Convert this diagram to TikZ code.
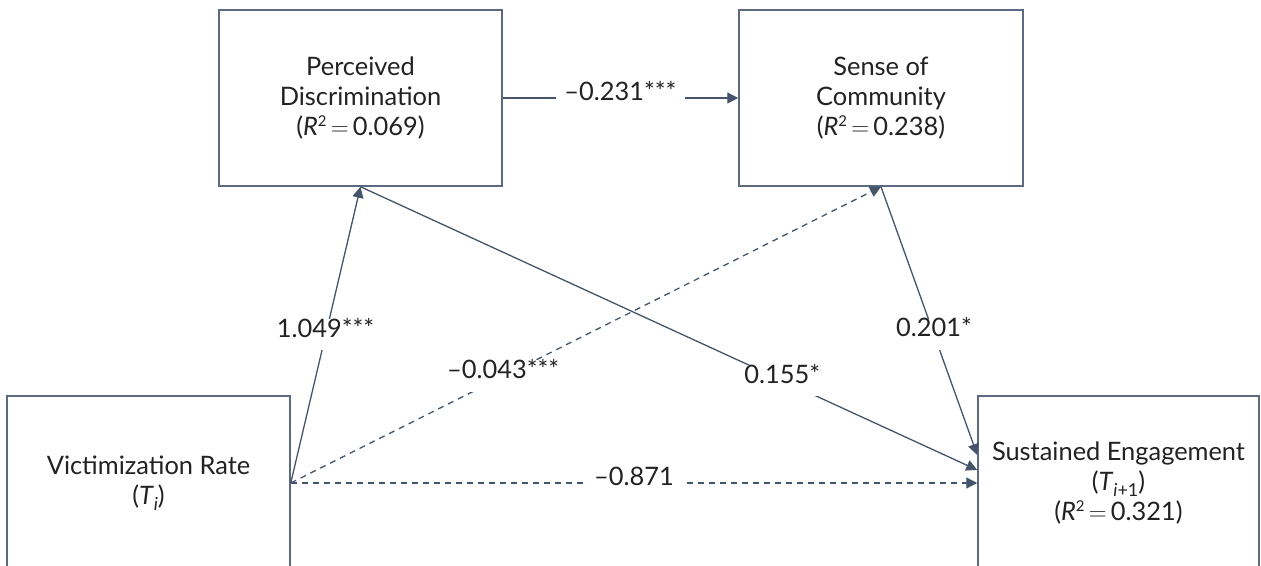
\documentclass[tikz,border=0pt]{standalone}
\usepackage{fontspec}
\setmainfont{Lato}
\usetikzlibrary{arrows.meta}
\definecolor{linec}{HTML}{44546A}
\definecolor{boxc}{HTML}{5B6A7E}
\definecolor{txtc}{HTML}{222222}
\newcommand{\supsq}{\raisebox{0.36em}{\fontsize{15}{15}\selectfont 2}}
\newcommand{\subsc}[1]{\raisebox{-0.22em}{\fontsize{18}{18}\selectfont #1}}
\newcommand{\eqs}{\,$=$\,}
\tikzset{
  box/.style={draw=boxc, line width=1.5bp, fill=white, align=center, text=txtc,
    font=\fontsize{25.5}{30}\selectfont, inner sep=0pt},
  path/.style={draw=linec, line width=1.3bp, -{Triangle[length=11bp,width=11bp]}},
  dpath/.style={path, dash pattern=on 6bp off 5bp},
  lab/.style={fill=white, text=txtc, font=\fontsize{25.5}{30}\selectfont,
    inner xsep=8bp, inner ysep=11bp, text height=0.72em, text depth=0.2em},
}
\begin{document}
\begin{tikzpicture}[x=1bp, y=-1bp]
\useasboundingbox (0,0) rectangle (1261,566);
\node[box, minimum width=283bp, minimum height=176bp] (pd) at (360.5,98)
  {Perceived\\Discrimination\\(\textit{R}\supsq\eqs0.069)};
\node[box, minimum width=284bp, minimum height=176bp] (soc) at (881,98)
  {Sense of\\Community\\(\textit{R}\supsq\eqs0.238)};
\node[box, minimum width=283bp, minimum height=174bp] (vr) at (148.5,483)
  {Victimization Rate\\(\textit{T}\subsc{\textit{i}})};
\node[box, minimum width=281bp, minimum height=174bp] (se) at (1118.5,483)
  {Sustained Engagement\\(\textit{T}\subsc{\textit{i}+1})\\(\textit{R}\supsq\eqs0.321)};

\draw[path] (pd.east) -- node[lab] {–0.231***} (soc.west);
\draw[path] (vr.east) -- node[lab, pos=0.5] {1.049***} (pd.south);
\draw[dpath] (vr.east) -- node[lab, pos=0.36] {–0.043***} (soc.south);
\draw[path] (pd.south) -- node[lab, pos=0.684] {0.155*} ([yshift=13bp]se.west);
\draw[path] (soc.south) -- node[lab, pos=0.55] {0.201*} ([yshift=28bp]se.west);
\draw[dpath] (vr.east) -- node[lab] {–0.871} (se.west);
\end{tikzpicture}
\end{document}
